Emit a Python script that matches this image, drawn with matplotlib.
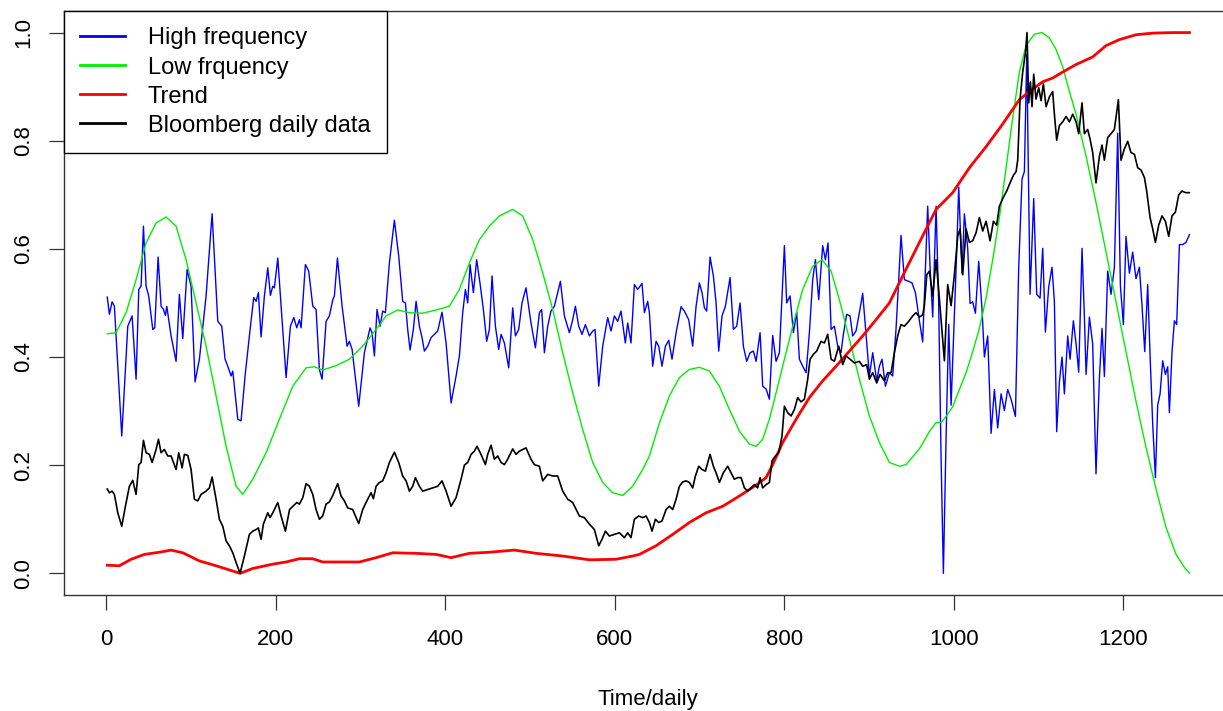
import matplotlib
matplotlib.use("Agg")
import matplotlib.pyplot as plt

plt.rcParams["font.family"] = ["Liberation Sans", "DejaVu Sans"]

# High frequency component
hf_x = [1, 3.5, 6.7, 9.4, 18.1, 25.2, 30.3, 35, 38.2, 40.9, 43.7, 46.8, 49.9, 54.7, 57, 61, 64.5, 67.3,
        69.6, 71.2, 76.3, 82.2, 86.1, 90.1, 95.2, 99.9, 104.6, 109.7, 117.6, 124.7, 131.4, 136.1, 140,
        143.2, 147.1, 149.1, 155, 158.9, 163.6, 168.7, 173.8, 176.6, 179.3, 182.5, 186.4, 190.4, 193.5,
        196.3, 198.2, 202.2, 207.3, 212, 217.1, 221.1, 224.6, 227.7, 229.7, 234.8, 238.7, 243.5, 247.4,
        251.3, 254.5, 259.2, 263.1, 267.1, 269, 272.6, 278.1, 284, 286.7, 289.9,
        297.7, 304.4, 311.1, 313.4, 316.2, 319.3, 322.9, 326, 329.2, 333.9, 339.8, 344.9, 349.6, 352.8,
        355.5, 358.3, 362.2, 365.4, 369.3, 372.4, 375.2, 379.1, 383.1, 387, 390.9, 396, 400.8, 406.7,
        412.6, 416.5, 420.4, 423.6, 426.3, 429.1, 433, 436.9, 441.3, 444.8, 448.7, 451.9, 455, 459,
        462.9, 465.7, 469.6, 474.7, 479.4, 482.6, 486.5, 490.4, 495.1, 501, 506.2, 510.9, 513.6, 516.8,
        520.7, 524.6, 528.6, 532.5, 535.7, 540.4, 546.3, 550.2, 553.4, 557.3, 561.2, 565.2, 569.9, 573.8,
        576.6, 580.9, 585.6, 591.5, 595.4, 599.4, 603.3, 607.2, 612.3, 615.1, 619, 623, 626.9,
        632, 634.8, 638.7, 640.7, 644.6, 648.6, 651.7, 655.6, 659.6, 663.5, 667.4, 672.2, 678.1, 682,
        687.1, 691.8, 695.8, 699.7, 702.8, 705.6, 708.3, 712.3, 716.2, 719.4, 722.5, 726.4, 730.4, 735.9,
        739.8, 743.7, 747.7, 751.6, 755.5, 759.5, 763.4, 766.6, 771.3, 774.4, 778.4, 782.3, 786.2, 790.2,
        794.1, 800, 802.7, 806.7, 810.6, 814.5, 817.7, 821.6, 825.6, 829.5, 833.4, 836.6, 840.5, 845.2,
        848.4, 851.5, 855.1, 859, 862.9, 866.8, 869.6, 873.5, 877.5, 880.6, 884.5, 888.5, 892.4, 896.3,
        900.3, 904.2, 908.9, 912.1, 915.2, 919.2, 923.9, 927.8, 931.7, 934.9, 937.6, 941.6, 946.7, 950.6,
        954.6, 959.3, 963.2, 966.4, 969.1, 971.9, 975, 979, 982.1, 984.9, 987.6, 990.8, 993.9, 996.7,
        1000.6, 1003.3, 1005.7, 1009.6, 1012.4, 1016.3, 1019.1, 1022.2, 1025.4, 1029.3, 1033.2, 1036,
        1039.9, 1043.9, 1047.8, 1051.7, 1055.7, 1059.6, 1063.5, 1067.5, 1072.6, 1076.5, 1080.4, 1083.2,
        1086, 1089.9, 1094.2, 1097.7, 1101.7, 1104.8, 1108, 1111.9, 1115.8, 1118.6, 1121.3, 1124.5,
        1127.6, 1130.4, 1134.3, 1137.1, 1141, 1144.2, 1147.3, 1151.2, 1154, 1156, 1159.9, 1163.8, 1167.7,
        1171.7, 1174.8, 1177.6, 1181.5, 1185.4, 1189.4, 1193.3, 1196.5, 1200, 1203.1, 1207.1, 1211,
        1214.9, 1218.9, 1222, 1225.2, 1228.7, 1231.5, 1234.6, 1237.8, 1240.5, 1243.3, 1246.4, 1249.6,
        1252.3, 1254.3, 1257.4, 1260.2, 1262.9, 1266.1, 1270, 1273.9, 1277.9]
hf_y = [0.511, 0.479, 0.502, 0.494, 0.254, 0.457, 0.476, 0.359, 0.525, 0.531, 0.642, 0.531, 0.513, 0.451,
        0.454, 0.585, 0.494, 0.488, 0.477, 0.494, 0.439, 0.392, 0.516, 0.434, 0.562, 0.531, 0.354, 0.396,
        0.513, 0.665, 0.466, 0.457, 0.396, 0.383, 0.365, 0.374, 0.285, 0.282, 0.365, 0.439, 0.510, 0.503,
        0.519, 0.437, 0.513, 0.565, 0.514, 0.531, 0.528, 0.583, 0.469, 0.362, 0.457, 0.473, 0.454, 0.469,
        0.454, 0.571, 0.559, 0.494, 0.488, 0.377, 0.359, 0.466, 0.476, 0.506, 0.513, 0.583, 0.494, 0.420,
        0.429, 0.414,
        0.309, 0.408, 0.454, 0.445, 0.402, 0.488, 0.457, 0.485, 0.482, 0.574, 0.653, 0.587, 0.503, 0.500,
        0.451, 0.413, 0.451, 0.503, 0.457, 0.436, 0.411, 0.420, 0.436, 0.442, 0.448, 0.483, 0.426, 0.315,
        0.365, 0.402, 0.482, 0.525, 0.500, 0.571, 0.519, 0.580, 0.531, 0.488, 0.429, 0.451, 0.550, 0.457,
        0.414, 0.442, 0.426, 0.380, 0.491, 0.439, 0.451, 0.500, 0.528, 0.463, 0.417, 0.482, 0.488, 0.408,
        0.457, 0.485, 0.494, 0.519, 0.540, 0.476, 0.445, 0.469, 0.494, 0.457, 0.442, 0.460, 0.439, 0.448,
        0.451, 0.346, 0.420, 0.473, 0.448, 0.476, 0.466, 0.485, 0.426, 0.463, 0.426, 0.534, 0.525,
        0.536, 0.482, 0.503, 0.482, 0.383, 0.429, 0.420, 0.383, 0.420, 0.431, 0.396, 0.445, 0.493, 0.485,
        0.469, 0.420, 0.494, 0.537, 0.519, 0.491, 0.485, 0.585, 0.550, 0.500, 0.411, 0.476, 0.494, 0.547,
        0.451, 0.457, 0.500, 0.420, 0.392, 0.408, 0.411, 0.392, 0.445, 0.346, 0.341, 0.322, 0.440, 0.392,
        0.408, 0.606, 0.500, 0.513, 0.445, 0.483, 0.396, 0.383, 0.371, 0.445, 0.543, 0.580, 0.506, 0.606,
        0.580, 0.611, 0.451, 0.457, 0.420, 0.408, 0.442, 0.479, 0.476, 0.439, 0.448, 0.482, 0.518, 0.442,
        0.365, 0.408, 0.356, 0.383, 0.396, 0.346, 0.371, 0.365, 0.451, 0.543, 0.625, 0.543, 0.540, 0.537,
        0.519, 0.467, 0.428, 0.566, 0.679, 0.566, 0.474, 0.679, 0.495, 0.212, 0.000, 0.252, 0.460, 0.311,
        0.481, 0.594, 0.714, 0.555, 0.665, 0.601, 0.499, 0.502, 0.481, 0.577, 0.488, 0.400,
        0.439, 0.259, 0.340, 0.269, 0.332, 0.301, 0.340, 0.322, 0.290, 0.566, 0.729, 0.743,
        0.960, 0.516, 0.693, 0.516, 0.509, 0.601, 0.446, 0.530, 0.566, 0.502, 0.262, 0.354,
        0.400, 0.332, 0.439, 0.396, 0.467, 0.424, 0.372, 0.601, 0.474, 0.368, 0.474, 0.424, 0.184,
        0.361, 0.453, 0.364, 0.559, 0.516, 0.566, 0.814, 0.531, 0.460, 0.623, 0.555, 0.594,
        0.545, 0.566, 0.495, 0.410, 0.534, 0.403, 0.276, 0.177, 0.311, 0.332, 0.393, 0.368,
        0.382, 0.297, 0.410, 0.467, 0.460, 0.608, 0.608, 0.612, 0.626]

# Low frequency component
lf_x = [1, 11.4, 23.2, 35, 46.8, 58.6, 70.4, 82.2, 94, 105.8, 117.6, 129.4, 141.2, 153, 160.9, 172.7,
        188.4, 204.1, 219.9, 235.6, 245.4, 255.2, 271, 286.7, 302.4, 318.2, 330, 343.7, 357.5, 373.2,
        389, 404.7, 416.5, 428.3, 440.1, 451.9, 463.7, 479.4, 491.2, 503, 514.8, 526.6, 538.4, 550.2,
        562, 573.8, 585.6, 597.4, 609.2, 621, 632.8, 640.7, 652.5, 664.3, 676.1, 687.9, 699.7, 711.5,
        723.3, 735.1, 746.9, 758.7, 766.6, 774.4, 782.3, 790.2, 798, 809.8, 821.6, 833.4, 844.4, 855.1,
        864.9, 876.7, 888.5, 900.3, 912.1, 923.9, 935.7, 943.5, 959.3, 971.1, 979, 984.9, 990.8, 998.6,
        1006.5, 1014.4, 1022.2, 1030.1, 1038, 1045.8, 1053.7, 1061.6, 1069.4, 1077.3, 1085.2, 1095,
        1104, 1112.7, 1120.5, 1128.4, 1136.3, 1144.2, 1156, 1167.7, 1179.6, 1191.3, 1203.1, 1214.9,
        1226.7, 1238.5, 1250.3, 1262.1, 1272, 1278]
lf_y = [0.443, 0.445, 0.482, 0.543, 0.611, 0.648, 0.659, 0.642, 0.580, 0.500, 0.420, 0.328, 0.235, 0.161,
        0.146, 0.174, 0.223, 0.285, 0.346, 0.380, 0.382, 0.376, 0.384, 0.396, 0.420, 0.451, 0.476, 0.487,
        0.482, 0.481, 0.487, 0.494, 0.525, 0.574, 0.617, 0.642, 0.661, 0.673, 0.661, 0.617, 0.556, 0.488,
        0.408, 0.334, 0.266, 0.205, 0.168, 0.149, 0.144, 0.161, 0.192, 0.217, 0.278, 0.328, 0.362, 0.377,
        0.381, 0.374, 0.346, 0.303, 0.263, 0.239, 0.235, 0.248, 0.285, 0.334, 0.383, 0.457, 0.525, 0.568,
        0.580, 0.559, 0.506, 0.433, 0.359, 0.291, 0.242, 0.205, 0.198, 0.201, 0.230, 0.262, 0.279, 0.279,
        0.290, 0.308, 0.340, 0.371, 0.410, 0.453, 0.509, 0.580, 0.658, 0.750, 0.842, 0.927, 0.976, 0.997,
        1.000, 0.990, 0.969, 0.937, 0.891, 0.849, 0.771, 0.686, 0.594, 0.502, 0.410, 0.318, 0.233, 0.156,
        0.085, 0.035, 0.011, 0.000]

# Trend
trend_x = [1, 15.3, 29.1, 44.8, 62.5, 76.3, 90.1, 109.7, 129.4, 157.7, 172.7, 196.3, 212, 227.7, 243.5,
           255.2, 278.9, 298.5, 318.2, 337.8, 365.4, 389, 406.7, 428.3, 451.9, 481.4, 507, 538.4, 569.9,
           601.3, 621, 628.9, 648.6, 668.2, 687.9, 707.6, 727.2, 746.9, 766.6, 778.4, 786.2, 798, 813.8,
           829.5, 845.2, 861, 876.7, 892.4, 908.1, 923.9, 939.6, 959.3, 979, 998.6, 1018.3, 1038, 1057.6,
           1077.3, 1089.1, 1104.8, 1116.6, 1128.4, 1144.2, 1163.8, 1179.6, 1195.3, 1214.9, 1234.6, 1258.2,
           1278]
trend_y = [0.015, 0.014, 0.026, 0.035, 0.039, 0.043, 0.038, 0.023, 0.014, 0.000, 0.009, 0.017, 0.021, 0.027,
           0.027, 0.021, 0.021, 0.021, 0.029, 0.038, 0.037, 0.035, 0.029, 0.037, 0.039, 0.043, 0.037, 0.032,
           0.025, 0.026, 0.032, 0.035, 0.051, 0.072, 0.094, 0.112, 0.124, 0.143, 0.163, 0.177, 0.201, 0.242,
           0.285, 0.325, 0.356, 0.383, 0.411, 0.439, 0.469, 0.500, 0.550, 0.612, 0.673, 0.704, 0.750, 0.789,
           0.831, 0.876, 0.891, 0.909, 0.916, 0.927, 0.941, 0.955, 0.976, 0.987, 0.996, 0.999, 1.000, 1.000]

# Bloomberg daily data
bb_x = [1, 3.5, 6.7, 9.4, 13.4, 18.1, 22.4, 27.1, 31.1, 35, 38.2, 40.9, 43.7, 46.8, 50.7, 53.9, 58.6, 61.4,
        64.5, 68.4, 72.4, 76.3, 82.2, 85.3, 89.3, 92, 96, 99.9, 103.8, 107.8, 111.7, 117.6, 121.5, 124.7,
        129.4, 133.3, 137.3, 141.2, 145.1, 149.1, 153, 157.7, 162.8, 168.7, 172.7, 176.6, 179.3, 182.5,
        185.2, 190.4, 193.1, 196.3, 202.2, 206.1, 211.2, 216.1, 220, 224.6, 227.7, 231.7, 235.6, 239.5,
        243.5, 247.4, 251.3, 255.2, 259.2, 263.1, 267.1, 272.9, 276.9, 280.8, 284.7,
        290.6, 297.7, 302.4, 308.3, 312.3, 315, 318.2, 322.1, 326, 330, 333.9, 339.8, 344.9, 349.6, 353.6,
        357.5, 361.4, 364.6, 369.3, 373.2, 379.1, 385, 390.9, 396, 400.8, 406.7, 412.6, 418.5, 422.4,
        426.3, 430.3, 434.2, 437.3, 442, 447.2, 449.9, 453.9, 457.8, 461.7, 465.7, 469.6, 473.5, 479.4,
        483.4, 487.3, 491.2, 495.1, 501, 505, 510.9, 514.8, 520.7, 526.6, 532.5, 538.4, 544.3, 550.2,
        558.1, 564, 569.9, 575.8, 580.9, 584.8, 588.8, 593.5, 599.4, 605.3, 611.2, 615.1, 619, 623, 628.1,
        632.8, 636.8, 640.7, 643.8, 647.8, 651.7, 655.6, 660.4, 664.3, 668.2, 672.2, 676.1, 680, 684,
        687.9, 691.8, 695, 698.9, 702.8, 706.8, 712.3, 716.2, 719.4, 723.3, 728, 733.1, 737.1, 741, 744.9,
        748.9, 752.8, 756.7, 760.7, 764.6, 768.5, 771.3, 774.4, 778.4, 782.3, 785.4, 789.4, 793.3, 797.2,
        800, 803.9, 807.9, 811.8, 815.7, 819.6, 823.6, 827.5, 830.3, 834.2, 838.1, 843.2, 847.2, 851.1,
        855.1, 859, 864.1, 868.8, 872.7, 877.5, 882.6, 888.5, 892.4, 897.1, 900.3, 904.2, 908.9, 912.9,
        918, 921.9, 925.9, 929.8, 933.7, 937.6, 941.6, 946.7, 951.4, 955.3,
        959.3, 963.2, 965.2, 968, 971.1, 975, 979, 982.1, 986, 988.8, 992.7, 996.7, 1000.6, 1004.5, 1007.3,
        1010.4, 1014.4, 1018.3, 1022.2, 1026.2, 1030.1, 1034, 1038, 1042.7, 1046.6, 1050.5, 1053.7,
        1057.6, 1062.3, 1066.3, 1070.2, 1073.4, 1075.3, 1078.1, 1081.2, 1084.4, 1086.3, 1088.3, 1090.3,
        1092.2, 1094.2, 1096.9, 1100.1, 1102.9, 1105.6, 1108.8, 1112.7, 1116.6, 1118.6, 1121.3, 1124.5,
        1128.4, 1132.4, 1136.3, 1140.2, 1144.2, 1147.3, 1151.2, 1154, 1157.9, 1160.7, 1163.8, 1167.7,
        1171.7, 1174.8, 1177.6, 1181.5, 1185.4, 1189.4, 1194.1, 1197.2, 1201.2, 1205.1, 1209, 1213,
        1216.9, 1220.8, 1224.8, 1227.5, 1231.5, 1234.6, 1237.8, 1241.7, 1245.6, 1249.6, 1253.5, 1257.4,
        1261.4, 1265.3, 1269.2, 1273.2, 1277.9]
bb_y = [0.156, 0.149, 0.152, 0.146, 0.112, 0.087, 0.124, 0.161, 0.172, 0.146, 0.201, 0.205, 0.246, 0.223,
        0.220, 0.205, 0.229, 0.248, 0.223, 0.229, 0.217, 0.217, 0.192, 0.223, 0.195, 0.220, 0.218, 0.192,
        0.137, 0.134, 0.146, 0.152, 0.158, 0.178, 0.137, 0.100, 0.087, 0.060, 0.051, 0.038, 0.020, 0.000,
        0.032, 0.072, 0.078, 0.081, 0.084, 0.063, 0.091, 0.112, 0.103, 0.112, 0.131, 0.106, 0.078, 0.118,
        0.124, 0.131, 0.128, 0.140, 0.166, 0.161, 0.146, 0.118, 0.100, 0.106, 0.128, 0.132, 0.144, 0.166,
        0.143, 0.134, 0.121,
        0.118, 0.092, 0.118, 0.137, 0.149, 0.138, 0.161, 0.168, 0.171, 0.186, 0.205, 0.224, 0.205, 0.180,
        0.171, 0.152, 0.161, 0.177, 0.161, 0.152, 0.155, 0.158, 0.161, 0.171, 0.152, 0.124, 0.140, 0.174,
        0.200, 0.205, 0.220, 0.226, 0.235, 0.220, 0.201, 0.220, 0.237, 0.211, 0.217, 0.205, 0.201, 0.211,
        0.230, 0.220, 0.226, 0.229, 0.232, 0.211, 0.201, 0.198, 0.171, 0.183, 0.180, 0.180, 0.152, 0.137,
        0.131, 0.106, 0.103, 0.091, 0.081, 0.051, 0.063, 0.078, 0.069, 0.072, 0.075, 0.066, 0.075, 0.066,
        0.100, 0.106,
        0.103, 0.106, 0.094, 0.078, 0.100, 0.094, 0.097, 0.118, 0.124, 0.118, 0.137, 0.161, 0.169, 0.171,
        0.168, 0.158, 0.180, 0.198, 0.192, 0.189, 0.220, 0.198, 0.186, 0.168, 0.186, 0.198, 0.186, 0.174,
        0.177, 0.177, 0.158, 0.152, 0.158, 0.164, 0.158, 0.177, 0.158, 0.164, 0.168, 0.208, 0.217, 0.223,
        0.254, 0.309, 0.297, 0.291, 0.303, 0.325, 0.317, 0.322, 0.359, 0.396, 0.405, 0.411, 0.429, 0.426,
        0.442, 0.396, 0.392, 0.420, 0.386, 0.402, 0.396, 0.389, 0.392, 0.383, 0.386, 0.359, 0.371, 0.352,
        0.368, 0.356, 0.371, 0.371, 0.408, 0.439, 0.460, 0.457, 0.466, 0.476, 0.482,
        0.474, 0.478, 0.495, 0.552, 0.559, 0.513, 0.580, 0.523, 0.446, 0.393, 0.534, 0.495, 0.552, 0.623,
        0.637, 0.552, 0.637, 0.612, 0.615, 0.630, 0.658, 0.633, 0.651, 0.615, 0.651, 0.644, 0.679, 0.693,
        0.707, 0.722, 0.736, 0.743, 0.764, 0.877, 0.927, 0.962, 1.000, 0.870, 0.909, 0.863, 0.923, 0.877,
        0.898, 0.874, 0.905, 0.863, 0.881, 0.891, 0.849, 0.801, 0.828, 0.835, 0.845, 0.835, 0.849, 0.835,
        0.813, 0.870, 0.813, 0.821, 0.803, 0.778, 0.722, 0.771, 0.792, 0.764, 0.806, 0.813, 0.821, 0.876,
        0.764, 0.785, 0.799, 0.778, 0.775, 0.750, 0.746, 0.732, 0.707, 0.658, 0.637, 0.612, 0.644, 0.661,
        0.651, 0.623, 0.661, 0.668, 0.700, 0.707, 0.704, 0.704]

x_ticks = [0, 200, 400, 600, 800, 1000, 1200]
y_ticks = [0.0, 0.2, 0.4, 0.6, 0.8, 1.0]
legend_labels = ["High frequency", "Low frquency", "Trend", "Bloomberg daily data"]

fig = plt.figure(figsize=(12.23, 7.11), dpi=100)
ax = fig.add_axes([0.0523, 0.1632, 0.9557, 0.8214])

ax.plot(hf_x, hf_y, color="#0000ff", lw=1.0, label=legend_labels[0])
ax.plot(lf_x, lf_y, color="#00ee00", lw=1.0, label=legend_labels[1])
ax.plot(trend_x, trend_y, color="#ff0000", lw=2.0, label=legend_labels[2])
ax.plot(bb_x, bb_y, color="black", lw=1.2, label=legend_labels[3])

ax.set_xlim(-50.1, 1329.1)
ax.set_ylim(-0.04, 1.04)
ax.set_xticks(x_ticks)
ax.set_yticks(y_ticks)
ax.set_yticklabels(["%.1f" % v for v in y_ticks], rotation=90, va="center")
ax.tick_params(length=10.5, width=0.9, color="#333333", labelsize=16, pad=11)
ax.tick_params(axis="x", pad=14)
for s in ax.spines.values():
    s.set_color("#333333")
    s.set_linewidth(1.0)

ax.set_xlabel("Time/daily", fontsize=16, labelpad=28)

leg = ax.legend(loc="upper left", bbox_to_anchor=(0, 1), borderaxespad=0, fontsize=17,
                fancybox=False, edgecolor="black", framealpha=1, borderpad=0.7,
                handlelength=1.9, handletextpad=0.95, labelspacing=0.3)
leg.get_frame().set_linewidth(1.0)
for h in leg.get_lines():
    h.set_linewidth(2.0)

fig.savefig("out.png", dpi=100)
